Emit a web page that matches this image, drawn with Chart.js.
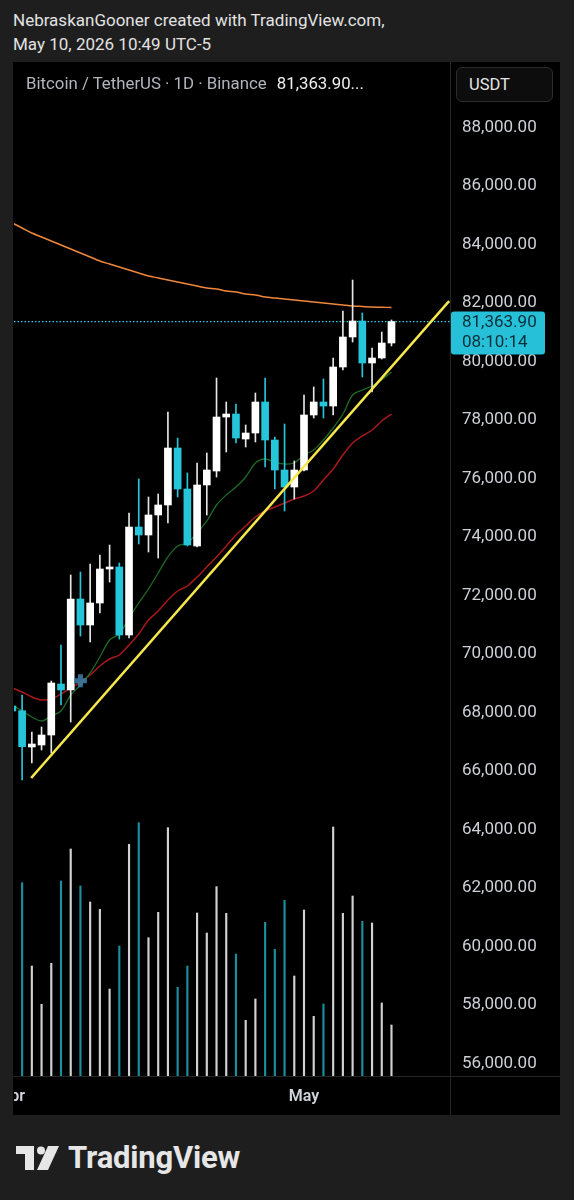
<!DOCTYPE html>
<html><head><meta charset="utf-8">
<script src="https://cdn.jsdelivr.net/npm/chart.js@4.4.0/dist/chart.umd.min.js"></script>
<style>
html,body{margin:0;padding:0;background:#1e1e1e;width:574px;height:1200px;overflow:hidden;font-family:Roboto,"Noto Sans",sans-serif;}
.abs{position:absolute;white-space:nowrap;}
#h1{left:13px;top:10px;font-size:17px;line-height:20px;color:#e2e2e2;}
#h2{left:13px;top:34px;font-size:17px;line-height:20px;color:#e2e2e2;}
#panel{left:13px;top:62px;width:547px;height:1053px;background:#000;}
#wrap{position:absolute;left:1px;top:0;width:546px;height:1053px;}
#title{left:26px;top:73px;font-size:16.8px;line-height:20px;color:#b2b5be;}
#title b{font-weight:400;color:#eeeeee;margin-left:6px;}
#usdt{left:456px;top:67px;width:95px;height:33px;border:1px solid #2c2c2c;border-radius:6px;background:#0d0d0d;color:#e6e6e6;font-size:16.5px;line-height:33px;box-sizing:content-box;}
#usdt span{margin-left:12px;}
#vdiv{left:450px;top:62px;width:1px;height:1053px;background:#262626;}
#hdiv{left:13px;top:1076px;width:547px;height:1px;background:#262626;}
#logo{left:16px;top:1146px;}
#logotxt{left:68px;top:1140px;font-size:31px;line-height:36px;font-weight:700;color:#e6e6e6;letter-spacing:-0.2px;}
</style></head>
<body>
<div id="h1" class="abs">NebraskanGooner created with TradingView.com,</div>
<div id="h2" class="abs">May 10, 2026 10:49 UTC-5</div>
<div id="panel" class="abs"><div id="wrap"><canvas id="c"></canvas></div></div>
<div id="vdiv" class="abs"></div>
<div id="hdiv" class="abs"></div>
<div id="title" class="abs">Bitcoin / TetherUS · 1D · Binance <b>81,363.90...</b></div>
<div id="usdt" class="abs"><span>USDT</span></div>
<svg id="logo" class="abs" width="46" height="26" viewBox="0 0 46 26">
  <rect x="0" y="0" width="18" height="8" fill="#e6e6e6"/>
  <rect x="9" y="0" width="9" height="24" fill="#e6e6e6"/>
  <circle cx="25" cy="4.5" r="4" fill="#e6e6e6"/>
  <polygon points="32,0 43,0 32,24 21,24" fill="#e6e6e6"/>
</svg>
<div id="logotxt" class="abs">TradingView</div>
<script>
// ---- data (k = day index, 0 = Apr 1 ... 39 = May 10) ----
const DAYS = ['Apr 1','Apr 2','Apr 3','Apr 4','Apr 5','Apr 6','Apr 7','Apr 8','Apr 9','Apr 10','Apr 11','Apr 12','Apr 13','Apr 14','Apr 15','Apr 16','Apr 17','Apr 18','Apr 19','Apr 20','Apr 21','Apr 22','Apr 23','Apr 24','Apr 25','Apr 26','Apr 27','Apr 28','Apr 29','Apr 30','May 1','May 2','May 3','May 4','May 5','May 6','May 7','May 8','May 9','May 10'];
const OPEN  = [68221,68061,66820,66888,67230,68973,68768,71880,70991,71743,72905,72974,70649,74341,74068,74752,75094,77042,75641,73692,75778,76256,78102,78205,77350,77555,78615,77316,76290,75709,76290,78171,78615,78478,79812,80838,81385,79949,80120,80632];
const HIGH  = [68450,68597,67333,67504,69076,70307,72700,72803,73076,73384,73726,73111,74820,75983,75367,75470,78273,77384,76188,76530,76871,79436,78615,78547,77829,78923,79436,77418,77863,76598,78855,79128,79402,80120,81726,82786,81658,80461,81008,81420];
const LOW   = [67900,65691,66272,66717,66614,68256,67675,70614,70409,71401,72461,70512,70546,73760,73487,73282,74478,75367,73692,73658,74752,76051,76906,77213,77077,77248,76393,75641,74889,75299,76256,78068,78068,78171,79709,80667,79470,78957,80085,80530];
const CLOSE = [68051,66830,66922,67230,69008,68768,71880,70991,71743,72905,72974,70649,74341,74068,74752,75094,77042,75641,73726,75778,76290,78102,78205,77384,77555,78615,77316,76290,75709,76290,78171,78615,78478,79812,80838,81385,79949,80120,80632,81363.9];
const VOLUME = [null,19333,11000,7167,11267,19500,22700,19000,17400,16667,8700,13000,23167,25333,13833,16367,24833,8867,11000,16300,14300,18933,16267,12200,5567,7700,15367,12667,17567,10000,16600,5967,7200,24900,16267,18000,15467,15300,7300,5100];
const MA_ORANGE = [84735,84564,84393,84257,84120,83983,83846,83710,83573,83436,83333,83231,83128,83026,82923,82855,82786,82718,82650,82581,82513,82479,82410,82376,82308,82274,82205,82171,82137,82103,82068,82034,82000,81966,81932,81897,81880,81863,81855,81846];
const MA_RED = [68837,68700,68529,68427,68461,68632,68837,69042,69281,69589,69828,69965,70307,70683,71162,71469,71846,72153,72324,72632,72974,73316,73692,74068,74376,74683,74888,75025,75162,75299,75401,75572,75948,76324,76803,77213,77453,77658,77966,78205];
const MA_GREEN = [68256,68050,67845,67709,67880,68050,68598,68939,69350,69897,70478,70683,71230,71743,72222,72769,73316,73692,73794,74136,74547,75094,75436,75709,76051,76530,76666,76564,76495,76530,76803,76974,77316,77726,78205,78855,79025,79162,79367,79641];
const TREND_X = [1.93, 44.93];
const TREND_Y = [65760, 82068];
const MARKER_X = [7.0];
const MARKER_Y = [69085];
const LAST_PRICE = 81363.9;
const LAST_LABEL = '81,363.90';
const COUNTDOWN = '08:10:14';
const PRICE_TICKS = [56000,58000,60000,62000,64000,66000,68000,70000,72000,74000,76000,78000,80000,82000,84000,86000,88000];
const TIME_TICKS = [0, 30];
const TIME_LABELS = ['Apr', 'May'];

const X_MIN = 0.165, X_MAX = 45.02;
const Y_MIN = 55571, Y_MAX = 90240;
const VOL_MAX = 101400;

const UP = '#ffffff', DOWN = '#26c6da';
const isUp = k => CLOSE[k] >= OPEN[k];
const pts = (arr) => arr.map((v,k)=>({x:k, y:v}));

const badge = {
  id:'badge',
  afterDraw(chart){
    const ctx = chart.ctx, ca = chart.chartArea;
    const y = chart.scales.y.getPixelForValue(LAST_PRICE);
    ctx.save();
    ctx.fillStyle = '#26c0d8';
    ctx.beginPath();
    ctx.roundRect(ca.right + 1, y - 10, 94, 43, 3);
    ctx.fill();
    ctx.fillStyle = '#0c2e37';
    ctx.font = '17px Roboto';
    ctx.textBaseline = 'middle';
    ctx.textAlign = 'left';
    ctx.fillText(LAST_LABEL, ca.right + 12, y + 1);
    ctx.fillText(COUNTDOWN, ca.right + 12, y + 21);
    ctx.restore();
  }
};

const canvas = document.getElementById('c');
canvas.width = 546; canvas.height = 1053;

new Chart(canvas, {
  type: 'bar',
  data: {
    datasets: [
      { type:'line', data: TREND_X.map((x,i)=>({x, y:TREND_Y[i]})), borderColor:'#f6e84a', borderWidth:2.6, pointRadius:0, order:0, yAxisID:'y' },
      { type:'line', data: MARKER_X.map((x,i)=>({x, y:MARKER_Y[i]})), showLine:false, pointStyle:'cross', pointRadius:6.5, pointBorderWidth:5, pointBorderColor:'rgba(62,128,168,0.85)', pointBackgroundColor:'rgba(62,128,168,0.85)', order:1, yAxisID:'y' },
      { type:'bar', data: OPEN.map((o,k)=>({x:k, y:[o, CLOSE[k]]})), backgroundColor: OPEN.map((o,k)=>isUp(k)?UP:DOWN), barThickness:7, grouped:false, minBarLength:2, order:2, yAxisID:'y' },
      { type:'bar', data: LOW.map((l,k)=>({x:k, y:[l, HIGH[k]]})), backgroundColor: OPEN.map((o,k)=>isUp(k)?'#e6e6e6':DOWN), barThickness:1, grouped:false, order:3, yAxisID:'y' },
      { type:'line', data: pts(MA_GREEN), borderColor:'#1e6a24', borderWidth:1.3, pointRadius:0, tension:0.3, order:4, yAxisID:'y' },
      { type:'line', data: pts(MA_RED), borderColor:'#a8191b', borderWidth:1.5, pointRadius:0, tension:0.3, order:5, yAxisID:'y' },
      { type:'line', data: pts(MA_ORANGE), borderColor:'#f0873a', borderWidth:1.5, pointRadius:0, tension:0.3, order:6, yAxisID:'y' },
      { type:'bar', data: VOLUME.map((v,k)=>({x:k, y:v})), backgroundColor: OPEN.map((o,k)=>isUp(k)?'rgba(255,255,255,0.82)':'rgba(38,198,218,0.72)'), barThickness:1.5, grouped:false, order:8, yAxisID:'vol' },
      { type:'line', data: [{x:X_MIN,y:LAST_PRICE},{x:X_MAX,y:LAST_PRICE}], borderColor:'#2fd0e6', borderWidth:1.3, borderDash:[1.5,2], pointRadius:0, order:9, yAxisID:'y' }
    ]
  },
  options: {
    responsive:false, animation:false, devicePixelRatio:1,
    layout:{padding:0, autoPadding:false},
    plugins:{legend:{display:false}, tooltip:{enabled:false}},
    scales:{
      x:{
        type:'linear', min:X_MIN, max:X_MAX, offset:false,
        grid:{display:false, drawTicks:false}, border:{display:false},
        afterBuildTicks: s => { s.ticks = TIME_TICKS.map(v=>({value:v})); },
        afterFit: s => { s.height = 39; s.paddingLeft = 0; s.paddingRight = 0; },
        ticks:{ autoSkip:false, maxRotation:0, minRotation:0, padding:11, color:'#d1d4dc', font:{family:'Roboto', size:16, weight:'600'},
          callback: (v) => { const i = TIME_TICKS.indexOf(v); return i >= 0 ? TIME_LABELS[i] : ''; } }
      },
      y:{
        type:'linear', position:'right', min:Y_MIN, max:Y_MAX,
        grid:{display:false, drawTicks:false}, border:{display:false},
        afterBuildTicks: s => { s.ticks = PRICE_TICKS.map(v=>({value:v})); },
        afterFit: s => { s.width = 110; s.paddingTop = 0; s.paddingBottom = 0; },
        ticks:{ padding:12, color:'#cdd0d6', font:{family:'Roboto', size:17},
          callback: v => Number(v).toLocaleString('en-US',{minimumFractionDigits:2, maximumFractionDigits:2}) }
      },
      vol:{ type:'linear', display:false, min:0, max:VOL_MAX }
    }
  },
  plugins:[badge]
});
</script>
</body></html>
